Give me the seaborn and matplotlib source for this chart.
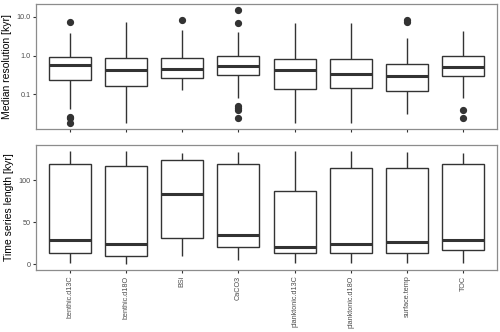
import numpy as np
import pandas as pd
import matplotlib
matplotlib.use("Agg")
import matplotlib.pyplot as plt
import seaborn as sns

sns.set_style("white")
plt.rcParams["font.family"] = ["Liberation Sans", "DejaVu Sans"]

categories = ["benthic.d13C", "benthic.d18O", "BSi", "CaCO3",
              "planktonic.d13C", "planktonic.d18O", "surface.temp", "TOC"]

# Median resolution [kyr] (log scale) summary
res_wlo = [0.041, 0.0186, 0.128, 0.08, 0.0186, 0.0186, 0.032, 0.08]
res_q1 = [0.23, 0.17, 0.27, 0.31, 0.142, 0.145, 0.126, 0.30]
res_med = [0.56, 0.44, 0.46, 0.54, 0.44, 0.344, 0.306, 0.51]
res_q3 = [0.905, 0.87, 0.85, 0.96, 0.84, 0.805, 0.62, 0.96]
res_whi = [3.8, 7.2, 4.6, 4.2, 6.9, 6.9, 2.85, 4.4]
res_out = [[7.3, 0.027, 0.0245, 0.018], [], [8.4],
           [15.2, 6.9, 0.05, 0.045, 0.039, 0.0245], [], [],
           [8.3, 7.3], [0.039, 0.0245]]

# Time series length [kyr] summary
len_wlo = [1.5, 0.4, 9.5, 5.1, 1.5, 1.5, 1.5, 1.5]
len_q1 = [13.8, 10.2, 31.0, 21.0, 13.5, 13.5, 13.5, 16.7]
len_med = [28.6, 23.8, 84.0, 34.9, 21.0, 23.8, 26.2, 29.3]
len_q3 = [119.8, 116.7, 123.8, 119.8, 86.9, 115.0, 115.0, 119.8]
len_whi = [135.2, 135.2, 132.0, 134.0, 135.2, 135.2, 134.0, 132.0]
len_out = [[], [], [], [], [], [], [], []]


def build(wlo, q1, med, q3, whi, out):
    rows = []
    m = 40
    for i, c in enumerate(categories):
        vals = [wlo[i]] + [q1[i]] * m + [med[i]] * 11 + [q3[i]] * m + [whi[i]] + list(out[i])
        rows += [(c, v) for v in vals]
    return pd.DataFrame(rows, columns=["cat", "val"])


df_res = build(res_wlo, res_q1, res_med, res_q3, res_whi, res_out)
df_len = build(len_wlo, len_q1, len_med, len_q3, len_whi, len_out)

fig, (ax1, ax2) = plt.subplots(2, 1, figsize=(5.0, 3.32), dpi=100, sharex=True)
fig.subplots_adjust(left=0.072, right=0.994, top=0.988, bottom=0.187, hspace=0.13)

line_col = "#333333"
box_kw = dict(x="cat", y="val", order=categories, width=0.75, color="white",
              linecolor=line_col, linewidth=1.0,
              flierprops=dict(marker="o", markersize=4.2, markerfacecolor=line_col,
                              markeredgecolor=line_col),
              medianprops=dict(linewidth=2.2, color=line_col),
              capprops=dict(linewidth=0), saturation=1)

ax1.set_yscale("log")
sns.boxplot(data=df_res, ax=ax1, **box_kw)
sns.boxplot(data=df_len, ax=ax2, **box_kw)

ax1.set_ylim(0.013, 21.6)
ax1.set_yticks([0.1, 1.0, 10.0])
ax1.set_yticklabels(["0.1", "1.0", "10.0"])
ax1.minorticks_off()
ax1.yaxis.set_minor_locator(matplotlib.ticker.NullLocator())
ax2.set_ylim(-6.8, 142.0)
ax2.set_yticks([0, 50, 100])

for ax in (ax1, ax2):
    ax.set_xlim(-0.6, 7.6)
    ax.set_xlabel("")
    for s in ax.spines.values():
        s.set_visible(True)
        s.set_color("#8c8c8c")
        s.set_linewidth(0.9)
    ax.tick_params(axis="both", which="major", length=2.5, width=0.8,
                   color=line_col, labelsize=5.2, labelcolor="#4d4d4d",
                   left=True, bottom=True, pad=1.5)

ax1.set_ylabel("Median resolution [kyr]", fontsize=7.5, color="black", labelpad=3)
ax2.set_ylabel("Time series length [kyr]", fontsize=7.5, color="black", labelpad=3)
ax2.set_xticks(range(len(categories)))
ax2.set_xticklabels(categories, rotation=90, fontsize=5.2, color="#4d4d4d")

fig.savefig("out.png", dpi=100)
